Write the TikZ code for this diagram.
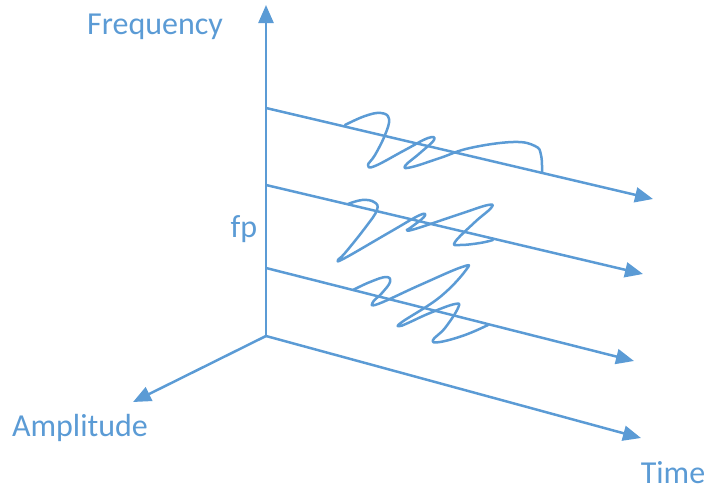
\documentclass[tikz,border=0pt]{standalone}
\usepackage{fontspec}
\setmainfont{Carlito}
\usetikzlibrary{arrows.meta}
\definecolor{ax}{HTML}{5B9BD5}
\begin{document}
\begin{tikzpicture}[x=1pt,y=-1pt,
  axis/.style={draw=ax,line width=2.5pt,-{Triangle[length=18pt,width=15pt]}},
  wave/.style={draw=ax,line width=2.5pt,line cap=round,line join=round},
  lbl/.style={text=ax,font=\fontsize{32}{36}\selectfont,anchor=base,inner sep=0pt}]
\useasboundingbox (0,0) rectangle (710,493);
\coordinate (O) at (266,336);
\coordinate (F) at (266,5);
\coordinate (A) at (133,402);
\coordinate (T) at (641,438);
\coordinate (s1) at (266,108);
\coordinate (e1) at (653,199);
\coordinate (s2) at (266,185);
\coordinate (e2) at (643,274);
\coordinate (s3) at (266,268);
\coordinate (e3) at (634,361);
\draw[axis] (O) -- (F);
\draw[axis] (O) -- (A);
\draw[axis] (O) -- (T);
\draw[axis] (s1) -- (e1);
\draw[axis] (s2) -- (e2);
\draw[axis] (s3) -- (e3);
\draw[wave] plot[smooth,tension=0.7] coordinates {(345,125) (365,116) (381,113) (389,119) (385,135) (375,155) (368,165) (375,166) (405,150) (428,138) (434,140) (420,153) (405,166) (412,167) (440,158) (470,148) (513,142) (535,146) (541,155) (542,172)};
\draw[wave] plot[smooth,tension=0.7] coordinates {(348,204) (362,200) (374,202) (377,210) (365,228) (345,253) (338,260) (345,258) (390,232) (420,215) (424,217) (410,228) (407,230) (415,229) (460,214) (488,205) (491,208) (475,222) (455,242) (460,245) (480,243) (493,240)};
\draw[wave] plot[smooth,tension=0.7] coordinates {(353,290) (370,282) (386,277) (390,282) (382,293) (373,302) (378,304) (420,285) (462,267) (466,270) (440,297) (402,322) (400,326) (408,323) (430,313) (455,304) (458,308) (445,328) (433,340) (440,342) (465,335) (488,325)};
\node[lbl] (lf) at (155,34) {Frequency};
\node[lbl] (la) at (80,436) {Amplitude};
\node[lbl] (lt) at (673,483) {Time};
\node[lbl] (lp) at (244,237) {fp};
\end{tikzpicture}
\end{document}
